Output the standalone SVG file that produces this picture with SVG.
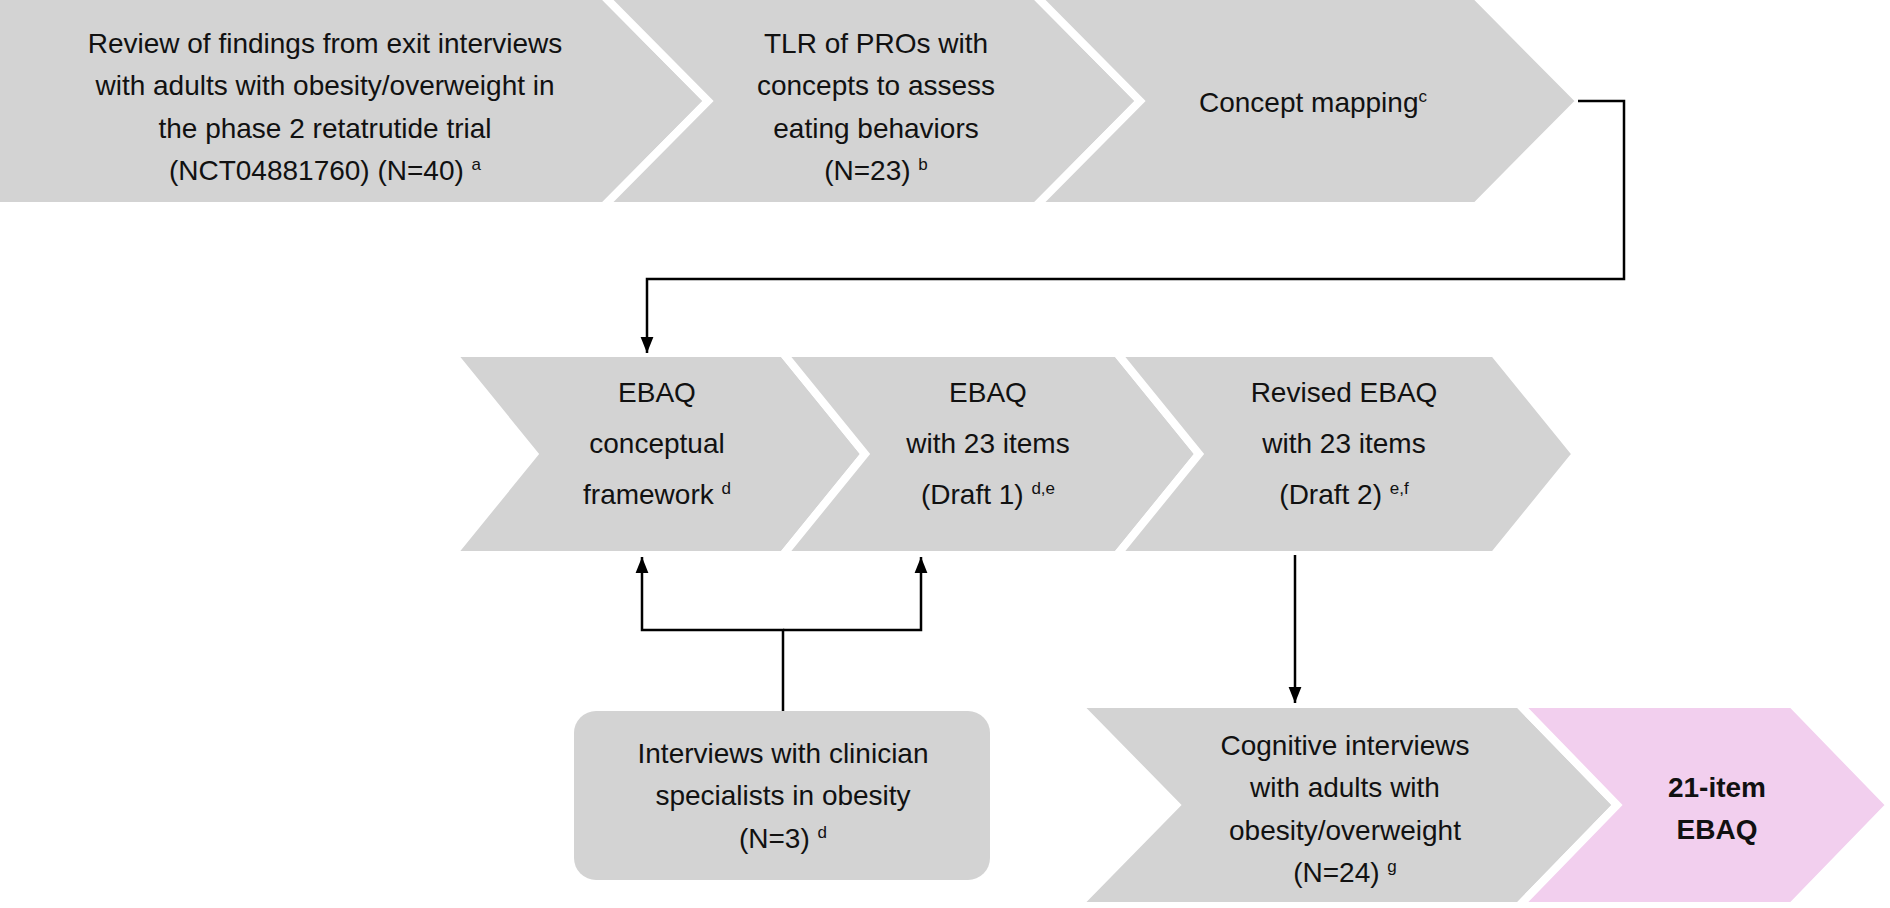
<svg xmlns="http://www.w3.org/2000/svg" width="1890" height="908" viewBox="0 0 1890 908">
<style>
.g{fill:#d3d3d3;stroke:#fff;stroke-width:8;stroke-linejoin:miter}
.p{fill:#f2cfee;stroke:#fff;stroke-width:8}
text{font-family:"Liberation Sans",Arial,sans-serif;font-size:28px;fill:#111;text-anchor:middle}
.s{font-size:17px}
.c{fill:none;stroke:#000;stroke-width:2.5}
</style>
<defs><marker id="a" markerWidth="10" markerHeight="10" refX="9" refY="5" orient="auto" markerUnits="userSpaceOnUse" viewBox="0 0 10 10"><path d="M0,0L10,5L0,10z" fill="#000"/></marker>
<marker id="ah" markerWidth="16" markerHeight="20" refX="20" refY="8" orient="auto" markerUnits="userSpaceOnUse" viewBox="0 0 20 16"><path d="M0,0L20,8L0,16z" fill="#000"/></marker></defs>
<g id="n1"><polygon class="g" points="-10,-4 604,-4 708,101 604,206 -10,206"/>
<text><tspan x="325" y="53">Review of findings from exit interviews</tspan><tspan x="325" y="95">with adults with obesity/overweight in</tspan><tspan x="325" y="138">the phase 2 retatrutide trial</tspan><tspan x="325" y="180">(NCT04881760) (N=40) <tspan class="s" dy="-10">a</tspan></tspan></text></g>
<g id="n2"><polygon class="g" points="604,-4 1036,-4 1140,101 1036,206 604,206 708,101"/>
<text><tspan x="876" y="53">TLR of PROs with</tspan><tspan x="876" y="95">concepts to assess</tspan><tspan x="876" y="138">eating behaviors</tspan><tspan x="876" y="180">(N=23) <tspan class="s" dy="-10">b</tspan></tspan></text></g>
<g id="n3"><polygon class="g" points="1036,-4 1476,-4 1580,101 1476,206 1036,206 1140,101"/>
<text x="1313" y="112">Concept mapping<tspan class="s" dy="-10">c</tspan></text></g>
<g id="n4"><polygon class="g" points="452,353 783,353 865,454 783,555 452,555 534,454"/>
<text><tspan x="657" y="402">EBAQ</tspan><tspan x="657" y="453">conceptual</tspan><tspan x="657" y="504">framework <tspan class="s" dy="-10">d</tspan></tspan></text></g>
<g id="n5"><polygon class="g" points="783,353 1117,353 1199,454 1117,555 783,555 865,454"/>
<text><tspan x="988" y="402">EBAQ</tspan><tspan x="988" y="453">with 23 items</tspan><tspan x="988" y="504">(Draft 1) <tspan class="s" dy="-10">d,e</tspan></tspan></text></g>
<g id="n6"><polygon class="g" points="1117,353 1494,353 1576,454 1494,555 1117,555 1199,454"/>
<text><tspan x="1344" y="402">Revised EBAQ</tspan><tspan x="1344" y="453">with 23 items</tspan><tspan x="1344" y="504">(Draft 2) <tspan class="s" dy="-10">e,f</tspan></tspan></text></g>
<g id="n7"><rect x="574" y="711" width="416" height="169" rx="22" fill="#d3d3d3"/>
<text><tspan x="783" y="763">Interviews with clinician</tspan><tspan x="783" y="805">specialists in obesity</tspan><tspan x="783" y="848">(N=3) <tspan class="s" dy="-10">d</tspan></tspan></text></g>
<g id="n8"><polygon class="g" points="1077,704 1519,704 1617,805 1519,906 1077,906 1176,805"/>
<text><tspan x="1345" y="755">Cognitive interviews</tspan><tspan x="1345" y="797">with adults with</tspan><tspan x="1345" y="840">obesity/overweight</tspan><tspan x="1345" y="882">(N=24) <tspan class="s" dy="-10">g</tspan></tspan></text></g>
<g id="n9"><polygon class="p" points="1519,704 1792,704 1890,805 1792,906 1519,906 1617,805"/>
<text font-weight="bold" style="font-weight:bold"><tspan x="1717" y="797">21-item</tspan><tspan x="1717" y="839">EBAQ</tspan></text></g>
<g id="connectors">
<polyline class="c" points="1578,101 1624,101 1624,279 647,279 647,353" marker-end="url(#ah)"/>
<polyline class="c" points="783,711 783,630 642,630 642,557" marker-end="url(#ah)"/>
<polyline class="c" points="783,630 921,630 921,557" marker-end="url(#ah)"/>
<polyline class="c" points="1295,555 1295,703" marker-end="url(#ah)"/>
</g>
</svg>
